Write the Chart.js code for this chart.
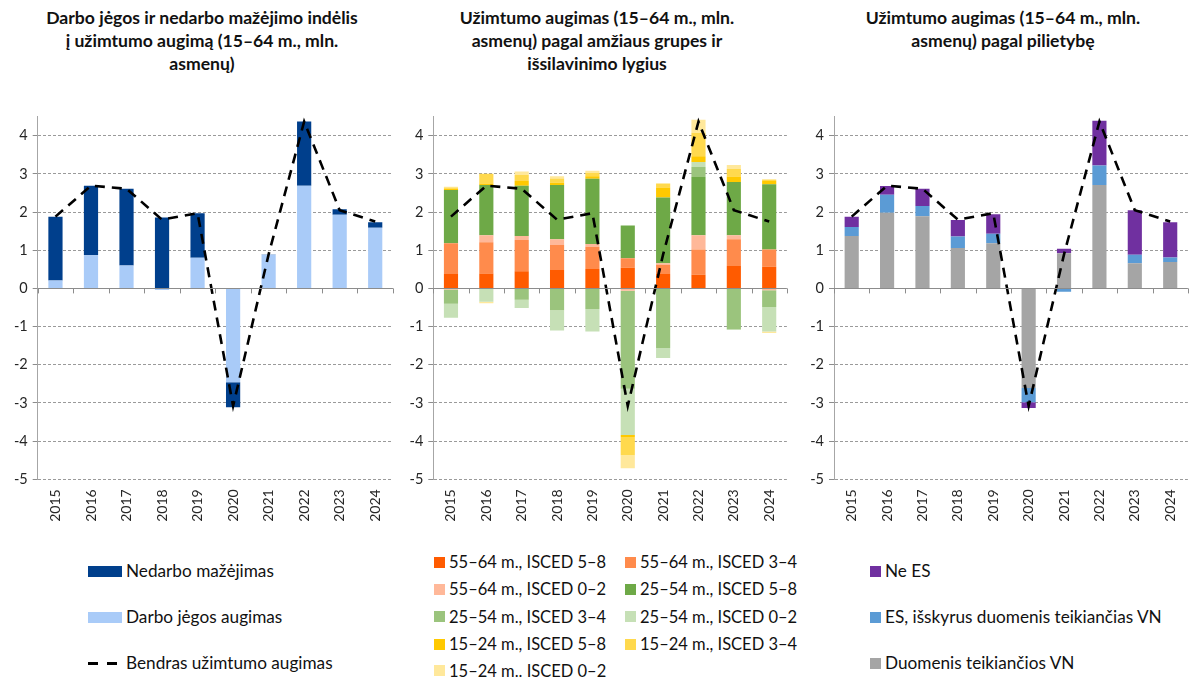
<!DOCTYPE html>
<html>
<head>
<meta charset="utf-8">
<script src="https://cdn.jsdelivr.net/npm/chart.js@4/dist/chart.umd.min.js"></script>
<style>
  html, body { margin:0; padding:0; background:#fff; width:1190px; height:677px; overflow:hidden; }
  body { position:relative; font-family: Lato, "Open Sans", sans-serif; color:#111; }
  .title { position:absolute; top:6px; font-weight:bold; font-size:17.6px; line-height:23px; text-align:center; color:#111; }
  .panel { position:absolute; top:100px; height:445px; }
  .leg { position:absolute; font-size:17.2px; line-height:20px; white-space:nowrap; color:#111; }
  .leg2 { font-size:16.5px; }
  .sw { position:absolute; }
</style>
</head>
<body>
<div class="title" style="left:2px;width:400px;">Darbo jėgos ir nedarbo mažėjimo indėlis<br>į užimtumo augimą (15–64 m., mln.<br>asmenų)</div>
<div class="title" style="left:397px;width:400px;">Užimtumo augimas (15–64 m., mln.<br>asmenų) pagal amžiaus grupes ir<br>išsilavinimo lygius</div>
<div class="title" style="left:803px;width:400px;">Užimtumo augimas (15–64 m., mln.<br>asmenų) pagal pilietybę</div>

<div class="panel" style="left:0;width:402px;"><canvas id="c1"></canvas></div>
<div class="panel" style="left:400px;width:396px;"><canvas id="c2"></canvas></div>
<div class="panel" style="left:800px;width:397px;"><canvas id="c3"></canvas></div>

<div id="legends"></div>

<script>
// ---------- DATA ----------
const years = ['2015','2016','2017','2018','2019','2020','2021','2022','2023','2024'];
const yTicks = [-5,-4,-3,-2,-1,0,1,2,3,4];

// Total employment growth (dashed line, same in all panels)
const totalGrowth = [1.88, 2.69, 2.61, 1.80, 1.97, -3.08, 0.89, 4.37, 2.05, 1.75];

// Panel 1
const labourForce = [0.21, 0.87, 0.60, -0.04, 0.80, -2.46, 0.88, 2.69, 1.93, 1.59];
const unempDecline = [1.67, 1.82, 2.01, 1.86, 1.17, -0.65, 0.01, 1.68, 0.14, 0.14];

// Panel 2
const a55_58 = [0.38, 0.39, 0.45, 0.48, 0.51, 0.54, 0.38, 0.36, 0.59, 0.57];
const a55_34 = [0.80, 0.82, 0.82, 0.66, 0.58, 0.25, 0.23, 0.66, 0.70, 0.45];
const a55_02 = [-0.03, 0.18, 0.10, 0.15, 0.07, -0.06, 0.05, 0.37, 0.10, -0.05];
const a25_58 = [1.40, 1.32, 1.32, 1.42, 1.71, 0.86, 1.72, 1.53, 1.40, 1.71];
const a25_34 = [-0.37, 0.00, -0.30, -0.57, -0.54, -2.57, -1.56, 0.26, -1.07, -0.44];
const a25_02 = [-0.37, -0.35, -0.21, -0.53, -0.59, -1.21, -0.26, 0.13, -0.02, -0.64];
const a15_58 = [0.03, 0.04, 0.12, 0.06, 0.07, -0.05, 0.26, 0.15, 0.14, 0.08];
const a15_34 = [0.03, 0.25, 0.16, 0.11, 0.09, -0.48, 0.11, 0.62, 0.20, 0.04];
const a15_02 = [0.02, -0.04, 0.09, 0.06, 0.05, -0.34, 0.00, 0.34, 0.10, -0.04];

// Panel 3
const reportingCountry = [1.37, 1.98, 1.89, 1.06, 1.18, -2.61, 0.92, 2.71, 0.66, 0.69];
const otherEU = [0.24, 0.47, 0.27, 0.30, 0.25, -0.37, -0.09, 0.51, 0.22, 0.12];
const nonEU = [0.27, 0.23, 0.45, 0.43, 0.51, -0.15, 0.12, 1.17, 1.17, 0.92];

// ---------- CHART SETUP ----------
const FONT = 'Lato, "Open Sans", sans-serif';
const TXT = '#262626';

const zeroTicksPlugin = {
  id: 'zeroTicks',
  afterDatasetsDraw(chart) {
    const x = chart.scales.x, y = chart.scales.y;
    const y0 = y.getPixelForValue(0);
    const ctx = chart.ctx;
    ctx.save();
    ctx.strokeStyle = '#8c8c8c';
    ctx.lineWidth = 1;
    ctx.beginPath();
    ctx.moveTo(x.left, Math.round(y0) + 0.5);
    ctx.lineTo(x.right, Math.round(y0) + 0.5);
    for (let i = 0; i <= years.length; i++) {
      const px = Math.round(x.getPixelForValue(i - 0.5)) + 0.5;
      ctx.moveTo(px, y0);
      ctx.lineTo(px, y0 + 5);
    }
    ctx.stroke();
    ctx.restore();
  }
};

function lineDs() {
  return {
    type: 'line', label: 'Bendras užimtumo augimas', data: totalGrowth,
    borderColor: '#000', borderWidth: 2.6, borderDash: [10, 7],
    pointRadius: 0, tension: 0, fill: false, stack: 'line', order: 0
  };
}
function barDs(label, data, color) {
  return { type: 'bar', label, data, backgroundColor: color, borderWidth: 0,
           stack: 's', order: 1, categoryPercentage: 0.4, barPercentage: 1 };
}

function makeChart(id, datasets, yWidth) {
  return new Chart(document.getElementById(id), {
    data: { labels: years, datasets },
    plugins: [zeroTicksPlugin],
    options: {
      responsive: true, maintainAspectRatio: false, animation: false,
      layout: { padding: { top: 16.6, bottom: 0, left: 0, right: 0 } },
      plugins: { legend: { display: false }, tooltip: { enabled: false }, title: { display: false } },
      scales: {
        x: {
          stacked: true, offset: true,
          grid: { display: false, drawTicks: false },
          border: { display: false },
          ticks: { minRotation: 90, maxRotation: 90, padding: 10, color: TXT, font: { family: FONT, size: 14 } },
          afterFit: s => { s.height = 65.7; }
        },
        y: {
          stacked: true, min: -5, max: 4.5,
          ticks: { stepSize: 1, padding: 5, color: TXT, font: { family: FONT, size: 14.5 } },
          afterBuildTicks: s => { s.ticks = yTicks.map(v => ({ value: v })); },
          afterFit: s => { s.width = yWidth; },
          grid: {
            color: c => (c.tick && c.tick.value === 0) ? 'rgba(0,0,0,0)' : '#9a9a9a',
            lineWidth: 1, tickLength: 5, tickColor: '#8c8c8c'
          },
          border: { display: true, color: '#a6a6a6', width: 1,
                    dash: c => (c.tick && c.tick.value !== undefined) ? [3, 2] : [] }
        }
      }
    }
  });
}

makeChart('c1', [
  lineDs(),
  barDs('Darbo jėgos augimas', labourForce, '#a9cbf8'),
  barDs('Nedarbo mažėjimas', unempDecline, '#003f8c')
], 37.7);

const p2 = [
  ['55–64 m., ISCED 5–8', a55_58, '#ff5b00'],
  ['55–64 m., ISCED 3–4', a55_34, '#ff8b4c'],
  ['55–64 m., ISCED 0–2', a55_02, '#ffb899'],
  ['25–54 m., ISCED 5–8', a25_58, '#6ea947'],
  ['25–54 m., ISCED 3–4', a25_34, '#9bc47d'],
  ['25–54 m., ISCED 0–2', a25_02, '#c6e0b6'],
  ['15–24 m., ISCED 5–8', a15_58, '#ffc900'],
  ['15–24 m., ISCED 3–4', a15_34, '#ffd94d'],
  ['15–24 m.. ISCED 0–2', a15_02, '#ffe89b']
];
makeChart('c2', [lineDs()].concat(p2.map(d => barDs(d[0], d[1], d[2]))), 33.3);

const p3 = [
  ['Duomenis teikiančios VN', reportingCountry, '#a5a5a5'],
  ['ES, išskyrus duomenis teikiančias VN', otherEU, '#5b9bd5'],
  ['Ne ES', nonEU, '#7030a0']
];
makeChart('c3', [lineDs()].concat(p3.map(d => barDs(d[0], d[1], d[2]))), 34);

// ---------- LEGENDS (HTML text) ----------
const L = document.getElementById('legends');
function addItem(x, yc, label, color, sw, cls) {
  const d = document.createElement('div');
  d.className = 'leg' + (cls ? ' ' + cls : '');
  d.style.left = (x + sw.tx) + 'px';
  d.style.top = (yc - 10) + 'px';
  d.textContent = label;
  L.appendChild(d);
  if (color === 'dash') {
    [0, 19].forEach(off => {
      const s = document.createElement('div');
      s.className = 'sw';
      s.style.cssText = `left:${x + off}px;top:${yc - 1.5}px;width:10px;height:3px;background:#000;`;
      L.appendChild(s);
    });
  } else {
    const s = document.createElement('div');
    s.className = 'sw';
    s.style.cssText = `left:${x}px;top:${yc - sw.h / 2}px;width:${sw.w}px;height:${sw.h}px;background:${color};`;
    L.appendChild(s);
  }
}
// Panel 1
const sw1 = { w: 34, h: 11, tx: 38 };
addItem(88, 571, 'Nedarbo mažėjimas', '#003f8c', sw1);
addItem(88, 617, 'Darbo jėgos augimas', '#a9cbf8', sw1);
addItem(88, 663, 'Bendras užimtumo augimas', 'dash', sw1);
// Panel 2
const sw2 = { w: 11, h: 11, tx: 15 };
const rows2 = [562, 589, 616.5, 644, 670.5];
p2.forEach((d, i) => {
  const col = i % 2, row = Math.floor(i / 2);
  addItem(col === 0 ? 434 : 625, rows2[row], d[0], d[2], sw2, 'leg2');
});
// Panel 3
const sw3 = { w: 11, h: 11, tx: 15 };
addItem(870, 571, 'Ne ES', '#7030a0', sw3);
addItem(870, 617, 'ES, išskyrus duomenis teikiančias VN', '#5b9bd5', sw3);
addItem(870, 663, 'Duomenis teikiančios VN', '#a5a5a5', sw3);
</script>
</body>
</html>
